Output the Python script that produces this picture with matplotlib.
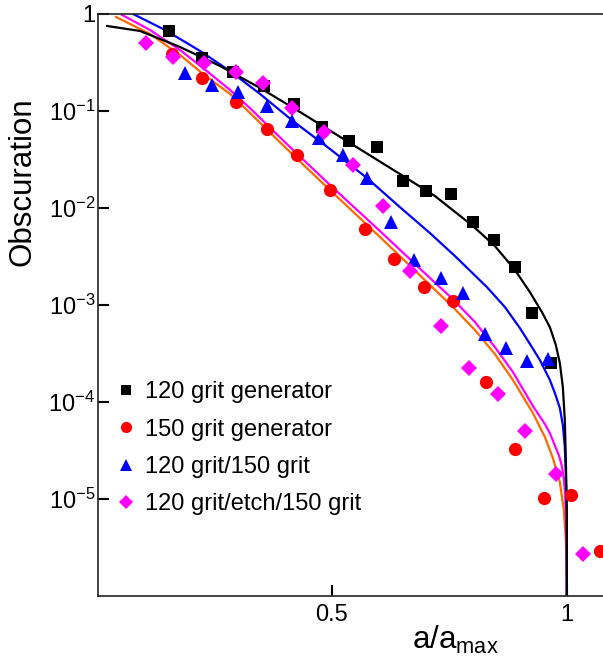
import matplotlib
matplotlib.use('Agg')
import matplotlib.pyplot as plt
from matplotlib.ticker import FixedLocator, NullLocator

plt.rcParams['font.family'] = ['Liberation Sans', 'DejaVu Sans']
plt.rcParams['mathtext.fontset'] = 'custom'
plt.rcParams['mathtext.rm'] = 'Liberation Sans'
plt.rcParams['mathtext.it'] = 'Liberation Sans:italic'
plt.rcParams['mathtext.default'] = 'regular'

# measured obscuration vs normalised crack depth
gen120_x = [0.153, 0.223, 0.289, 0.355, 0.419, 0.479, 0.536, 0.596, 0.651, 0.700,
            0.753, 0.800, 0.845, 0.889, 0.926, 0.966]
gen120_y = [0.668, 0.353, 0.253, 0.182, 0.119, 0.0687, 0.0493, 0.0428, 0.0191, 0.0148,
            0.0141, 0.00724, 0.00473, 0.00244, 0.00082, 0.000251]

gen150_x = [0.160, 0.223, 0.296, 0.362, 0.426, 0.496, 0.570, 0.632, 0.696, 0.757,
            0.828, 0.889, 0.951, 1.009, 1.070]
gen150_y = [0.388, 0.220, 0.124, 0.0656, 0.0354, 0.0155, 0.00614, 0.00301, 0.00155, 0.00109,
            0.00016, 3.27e-5, 1.02e-5, 1.10e-5, 2.92e-6]

g120_150_x = [0.187, 0.245, 0.300, 0.362, 0.415, 0.472, 0.523, 0.574, 0.626, 0.674,
              0.732, 0.779, 0.826, 0.870, 0.915, 0.960]
g120_150_y = [0.247, 0.186, 0.158, 0.113, 0.0793, 0.053, 0.0354, 0.0206, 0.00724, 0.00294,
              0.00188, 0.00132, 0.000499, 0.000357, 0.000263, 0.000276]

etch_x = [0.104, 0.162, 0.228, 0.296, 0.353, 0.415, 0.483, 0.545, 0.609, 0.666,
          0.732, 0.791, 0.853, 0.911, 0.977, 1.034]
etch_y = [0.503, 0.361, 0.313, 0.253, 0.195, 0.108, 0.0611, 0.028, 0.0106, 0.00222,
          0.000602, 0.000223, 0.00012, 5.01e-5, 1.81e-5, 2.72e-6]

# fitted curves
fit120_x = [0.0213, 0.0915, 0.1766, 0.2617, 0.3468, 0.4319, 0.5383, 0.6447, 0.7191, 0.8000,
            0.8468, 0.8894, 0.9213, 0.9468, 0.9638, 0.9766, 0.9851, 0.9915, 0.9957, 0.9979,
            1.0, 1.0]
fit120_y = [0.752, 0.668, 0.457, 0.291, 0.173, 0.0977, 0.0468, 0.0224, 0.0133, 0.00652,
            0.00406, 0.0023, 0.00136, 0.000847, 0.000593, 0.000387, 0.000252, 0.000143, 6.52e-5, 2.52e-5,
            7.18e-6, 5e-7]

fit120_150_x = [0.0766, 0.1447, 0.2191, 0.2830, 0.3468, 0.4170, 0.4957, 0.5745, 0.6447, 0.7085,
                0.7617, 0.8298, 0.8681, 0.9000, 0.9255, 0.9426, 0.9638, 0.9745, 0.9851, 0.9915,
                0.9957, 0.9979, 1.0, 1.0]
fit120_150_y = [1.0, 0.684, 0.416, 0.258, 0.150, 0.0788, 0.0406, 0.0204, 0.0102, 0.00552,
                0.0032, 0.00153, 0.000953, 0.000579, 0.000369, 0.000271, 0.000169, 0.000124, 8.67e-5, 5.79e-5,
                3.44e-5, 1.77e-5, 7.18e-6, 5e-7]

fit_etch_x = [0.0532, 0.1128, 0.1766, 0.2255, 0.2830, 0.3255, 0.4106, 0.4957, 0.6021, 0.7085,
              0.7574, 0.8043, 0.8468, 0.8851, 0.9277, 0.9532, 0.9638, 0.9766, 0.9830, 0.9894,
              0.9936, 0.9957, 0.9979, 1.0, 1.0]
fit_etch_y = [0.977, 0.684, 0.425, 0.278, 0.165, 0.107, 0.0425, 0.0173, 0.00579, 0.0019,
              0.00115, 0.000668, 0.000369, 0.000204, 9.1e-5, 5.93e-5, 4.79e-5, 3.36e-5, 2.84e-5, 2.19e-5,
              1.64e-5, 1.24e-5, 7.7e-6, 3.36e-6, 5e-7]

fit150_x = [0.0404, 0.1128, 0.1766, 0.2255, 0.2830, 0.3255, 0.4106, 0.4957, 0.6021, 0.7085,
            0.7574, 0.8043, 0.8468, 0.8851, 0.9277, 0.9532, 0.9702, 0.9851, 0.9936, 0.9979,
            1.0, 1.0]
fit150_y = [0.931, 0.622, 0.378, 0.241, 0.150, 0.0953, 0.0378, 0.0153, 0.00503, 0.00161,
            0.000953, 0.000552, 0.000312, 0.000169, 7.7e-5, 4.36e-5, 2.65e-5, 1.5e-5, 7.7e-6, 3.78e-6,
            1.46e-6, 5e-7]

fig = plt.figure(figsize=(6.03, 6.59), dpi=100)
ax = fig.add_axes([0.1625, 0.0956, 0.8375, 0.8832])

lw = 1.6
ax.plot(fit150_x, fit150_y, color='#FF6A00', lw=lw)
ax.plot(fit_etch_x, fit_etch_y, color='#FF00FF', lw=lw)
ax.plot(fit120_150_x, fit120_150_y, color='#0000FF', lw=lw)
ax.plot(fit120_x, fit120_y, color='black', lw=lw)

ax.plot(gen120_x, gen120_y, 's', color='black', ms=9, mew=0, label='120 grit generator')
ax.plot(gen150_x, gen150_y, 'o', color='#FF0000', ms=9.5, mew=0, label='150 grit generator')
ax.plot(g120_150_x, g120_150_y, '^', color='#0000FF', ms=10, mew=0, label='120 grit/150 grit')
ax.plot(etch_x, etch_y, 'D', color='#FF00FF', ms=8, mew=0, label='120 grit/etch/150 grit')

ax.set_yscale('log')
ax.set_xlim(0.002, 1.077)
ax.set_ylim(1e-6, 1)

ax.xaxis.set_major_locator(FixedLocator([0.5, 1.0]))
ax.set_xticklabels(['0.5', '1'])
ax.yaxis.set_major_locator(FixedLocator([1e-5, 1e-4, 1e-3, 1e-2, 1e-1, 1]))
ax.set_yticklabels(['$10^{-5}$', '$10^{-4}$', '$10^{-3}$', '$10^{-2}$', '$10^{-1}$', '1'])
ax.yaxis.set_minor_locator(NullLocator())
ax.xaxis.set_minor_locator(NullLocator())

ax.tick_params(axis='both', direction='in', length=8, width=1.5, labelsize=17, color='black')
ax.tick_params(axis='y', pad=2)
ax.tick_params(axis='x', pad=6)

for side in ['left', 'bottom', 'top']:
    ax.spines[side].set_linewidth(1.2)
    ax.spines[side].set_color('#222222')
ax.spines['right'].set_visible(False)

ax.set_xlabel('a/a$_{max}$', fontsize=22.5, x=0.707, labelpad=-2)
ax.set_ylabel('Obscuration', fontsize=22.5, y=0.711, labelpad=8)

ax.legend(loc='upper left', bbox_to_anchor=(0.014, 0.385), borderaxespad=0,
          frameon=False, fontsize=17, handlelength=1, handletextpad=0.3,
          labelspacing=0.65, markerscale=0.85)

fig.savefig('out.png', dpi=100)
